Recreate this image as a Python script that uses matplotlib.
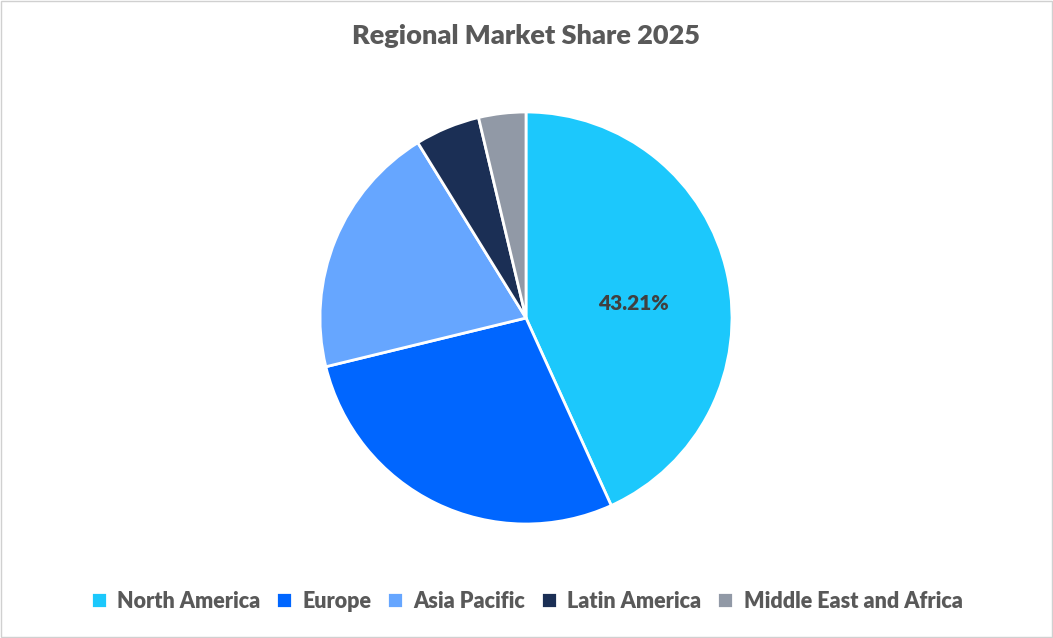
import matplotlib.pyplot as plt
from matplotlib.patches import Rectangle

labels = ["North America", "Europe", "Asia Pacific", "Latin America", "Middle East and Africa"]
values = [43.21, 27.99, 20.0, 5.1, 3.7]
colors = ["#1CC8FC", "#0066FF", "#66A6FF", "#1B2F55", "#9199A6"]

plt.rcParams['font.family'] = ['Lato', 'DejaVu Sans']
W, H = 1053, 638
fig = plt.figure(figsize=(W/100, H/100), dpi=100)
fig.patches.append(Rectangle((0.0005, 0.0008), 0.999, 0.998, transform=fig.transFigure,
                             fill=False, edgecolor="#D0D0D0", lw=1))
cx, cy, r = 526, 318, 206
ax = fig.add_axes([(cx-r)/W, (H-cy-r)/H, 2*r/W, 2*r/H])
wedges, _ = ax.pie(values, colors=colors, startangle=90, counterclock=False,
                   wedgeprops=dict(edgecolor="white", linewidth=2))
ax.set_xlim(-1, 1); ax.set_ylim(-1, 1); ax.set_aspect('equal')
ax.text(0.52, 0.07, f"{values[0]:.2f}%", ha='center', va='center', fontsize=15,
        fontweight='heavy', color="#404040")
fig.text(cx/W, 1-36/H, "Regional Market Share 2025", ha='center', va='center',
         fontsize=19.5, fontweight='heavy', color="#595959")
fig.legend(wedges, labels, loc='center', bbox_to_anchor=(0.5, 1-601/H), ncol=5,
           frameon=False, handlelength=0.75, handleheight=0.75,
           handletextpad=0.5, columnspacing=0.7, labelcolor="#595959",
           prop={'weight': 'heavy', 'size': 15.5})
fig.savefig("out.png", dpi=100)
